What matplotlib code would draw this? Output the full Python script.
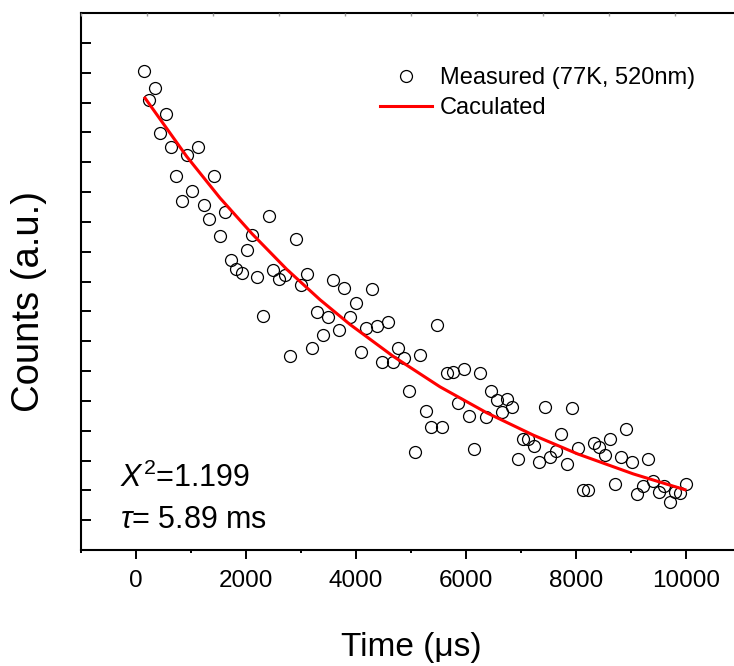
import matplotlib
matplotlib.use('Agg')
import matplotlib.pyplot as plt

plt.rcParams['font.family'] = ['Liberation Sans', 'DejaVu Sans']
plt.rcParams['mathtext.fontset'] = 'custom'
plt.rcParams['mathtext.rm'] = 'Liberation Sans'
plt.rcParams['mathtext.it'] = 'Liberation Sans:italic'

# measured decay (time in us, counts in arbitrary units)
time_us = [145, 242, 345, 436, 540, 631, 733, 836, 933, 1024,
           1122, 1231, 1327, 1424, 1522, 1618, 1722, 1818, 1922, 2013,
           2114, 2205, 2303, 2413, 2496, 2605, 2709, 2805, 2909, 3009,
           3103, 3200, 3296, 3394, 3496, 3587, 3691, 3787, 3891, 3994,
           4085, 4181, 4285, 4381, 4472, 4576, 4678, 4769, 4878, 4969,
           5072, 5169, 5267, 5372, 5467, 5569, 5654, 5763, 5854, 5958,
           6054, 6148, 6249, 6358, 6454, 6558, 6649, 6745, 6841, 6945,
           7030, 7136, 7245, 7332, 7436, 7536, 7636, 7727, 7830, 7932,
           8030, 8132, 8223, 8327, 8423, 8521, 8618, 8709, 8812, 8909,
           9018, 9114, 9212, 9308, 9405, 9503, 9605, 9709, 9799, 9896,
           9994]
counts = [16.07, 15.09, 15.48, 13.97, 14.61, 13.50, 12.55, 11.70, 13.25, 12.05,
          13.52, 11.56, 11.11, 12.54, 10.52, 11.32, 9.71, 9.41, 9.28, 10.06,
          10.56, 9.15, 7.86, 11.21, 9.38, 9.08, 9.22, 6.51, 10.41, 8.87,
          9.26, 6.77, 7.99, 7.22, 7.80, 9.05, 7.39, 8.77, 7.82, 8.28,
          6.64, 7.45, 8.75, 7.51, 6.31, 7.65, 6.29, 6.76, 6.42, 5.32,
          3.28, 6.55, 4.65, 4.12, 7.54, 4.12, 5.94, 5.97, 4.92, 6.07,
          4.50, 3.37, 5.94, 4.47, 5.33, 5.03, 4.64, 5.05, 4.79, 3.05,
          3.72, 3.72, 3.50, 2.96, 4.81, 3.13, 3.33, 3.89, 2.87, 4.75,
          3.41, 2.01, 2.01, 3.60, 3.44, 3.18, 3.71, 2.22, 3.13, 4.06,
          2.94, 1.87, 2.14, 3.06, 2.32, 1.96, 2.16, 1.62, 1.96, 1.91,
          2.21]

# calculated curve
fit_time_us = [164, 922, 1527, 2115, 2740, 3345, 3891, 4678, 5527, 6376,
               7224, 8031, 9042, 9982]
fit_counts = [15.15, 13.19, 11.80, 10.59, 9.41, 8.39, 7.56, 6.49, 5.47, 4.60,
              3.85, 3.22, 2.55, 2.02]

fig = plt.figure(figsize=(7.34, 6.66), dpi=100)
ax = fig.add_axes([81 / 734, 116 / 666, 660 / 734, 537 / 666])

ax.plot(time_us, counts, 'o', mfc='none', mec='black', ms=8.6, mew=0.9,
        label='Measured (77K, 520nm)')
ax.plot(fit_time_us, fit_counts, color='red', lw=2.2, label='Caculated')

ax.set_xlim(-1000, 11000)
ax.set_ylim(0, 18)
ax.set_xticks(range(0, 10001, 2000))
ax.set_xticks(range(-1000, 11000, 2000), minor=True)
ax.set_yticks(range(1, 18))
ax.set_yticklabels([])
ax.tick_params(axis='x', which='major', direction='out', length=6.5, width=1.4,
               labelsize=17.5, pad=8)
ax.tick_params(axis='x', which='minor', direction='out', length=2.5, width=1.4)
ax.tick_params(axis='y', direction='in', length=7, width=1.4)
for s in ['left', 'bottom', 'top']:
    ax.spines[s].set_linewidth(1.5)
ax.spines['right'].set_visible(False)

# faint ticks on the top edge
top = ax.twiny()
top.set_xlim(ax.get_xlim())
top.set_xticks(range(-1000, 11000, 1200))
top.tick_params(direction='in', length=2, width=1, color='0.6', labeltop=False)
for s in top.spines.values():
    s.set_visible(False)

ax.legend(loc='upper left', bbox_to_anchor=((380 - 81) / 660, (550 - 67) / 537),
          frameon=False, fontsize=17, handlelength=2.2, handletextpad=0.35,
          borderpad=0, borderaxespad=0, labelspacing=0.33)

ax.text(-291, 2.11, r'$\mathit{X}^{2}$=1.199', fontsize=22)
ax.text(-291, 0.74, r'$\mathit{\tau}$= 5.89 ms', fontsize=22)

ax.set_xlabel('Time (μs)', fontsize=24)
ax.xaxis.set_label_coords(0.5, -0.152)
ax.set_ylabel('Counts (a.u.)', fontsize=27.5)
ax.yaxis.set_label_coords(-0.052, 0.462)

fig.savefig('out.png', dpi=100)
